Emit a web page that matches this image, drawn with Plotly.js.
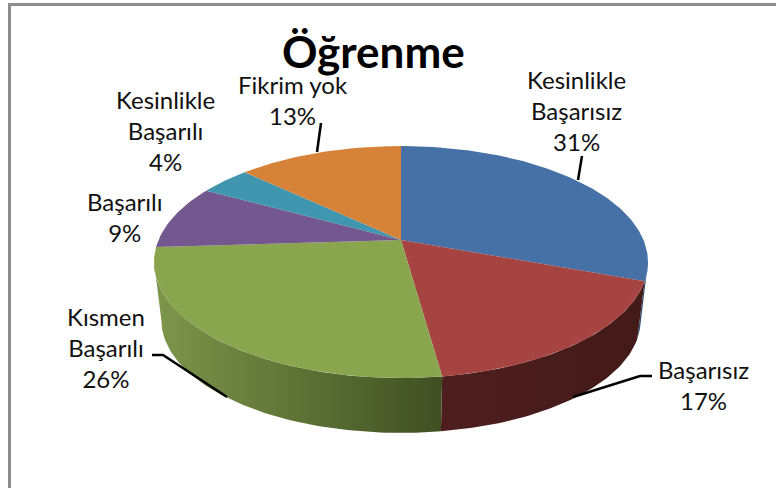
<!DOCTYPE html>
<html><head><meta charset="utf-8">
<script src="https://cdn.plot.ly/plotly-3.0.1.min.js"></script>
<style>html,body{margin:0;padding:0;background:#fff}</style></head>
<body><div id="chart" style="width:776px;height:488px"></div>
<script>
const categories = ["Kesinlikle Başarısız","Başarısız","Kısmen Başarılı","Başarılı","Kesinlikle Başarılı","Fikrim yok"];
const shares = [30.6,17.2,26.2,9,4,13];
const labelLines = ["Kesinlikle<br>Başarısız<br>31%","Başarısız<br>17%","Kısmen<br>Başarılı<br>26%","Başarılı<br>9%","Kesinlikle<br>Başarılı<br>4%","Fikrim yok<br>13%"];
const topColors = ["#4571a6","#a64442","#89a54e","#74578f","#3f96ae","#d68239"];
const wallColors = [["#2e4a70","#2e4a70"],["#4e1e1e","#421a18"],["#7e964b","#3f4f22"],null,null,null];
const labelX = [576,703,106,125,165,293];
const labelY = [110,385,347,217,130,100];

// perspective disc projection
const cx=401, cyTop=240, cyBottom=299, rimA=111.8, rimB=242.5, persp=0.19, bottomScale=0.97;
function rim(deg,isBottom){
  const t=deg*Math.PI/180,u=Math.sin(t),v=Math.cos(t),w=1+persp*v,s=isBottom?bottomScale:1;
  return [cx+s*rimB*u/w,(isBottom?cyBottom:cyTop)-s*rimA*v/w];
}
const arcPts=(a,b,isBottom)=>{const n=Math.max(2,Math.ceil(Math.abs(b-a)));const p=[];for(let i=0;i<=n;i++)p.push(rim(a+(b-a)*i/n,isBottom));return p;};

const traces=[];
const total=shares.reduce((a,b)=>a+b,0);
const edges=[0];shares.forEach(s=>edges.push(edges[edges.length-1]+s/total*360));
const tangentR=180-Math.acos(persp)*180/Math.PI, tangentL=180+Math.acos(persp)*180/Math.PI;

// side walls first
shares.forEach((s,i)=>{
  if(!wallColors[i])return;
  const a=Math.max(edges[i],tangentR),b=Math.min(edges[i+1],tangentL);
  if(a>=b)return;
  const top=arcPts(a,b,false),bot=arcPts(b,a,true),pts=top.concat(bot);pts.push(top[0]);
  traces.push({type:"scatter",mode:"lines",x:pts.map(p=>p[0]),y:pts.map(p=>p[1]),fill:"toself",line:{width:0},
    fillgradient:{type:"horizontal",colorscale:[[0,wallColors[i][0]],[1,wallColors[i][1]]]},hoverinfo:"skip",name:categories[i]+" side",showlegend:false});
});
// top faces
shares.forEach((s,i)=>{
  const pts=[[cx,cyTop]].concat(arcPts(edges[i],edges[i+1],false));pts.push([cx,cyTop]);
  traces.push({type:"scatter",mode:"lines",x:pts.map(p=>p[0]),y:pts.map(p=>p[1]),fill:"toself",fillcolor:topColors[i],
    line:{width:0},name:categories[i],text:s+"%",hoverinfo:"name+text",showlegend:false});
});

const font={family:"Lato, Carlito, sans-serif",size:24,color:"#111"};
const annotations=labelLines.map((t,i)=>({x:labelX[i],y:labelY[i],xref:"x",yref:"y",text:t,showarrow:false,font,align:"center",xanchor:"center",yanchor:"middle"}));
annotations.push({x:373,y:51,xref:"x",yref:"y",text:"<b>Öğrenme</b>",showarrow:false,font:{family:"Lato, Carlito, sans-serif",size:44,color:"#000"},xanchor:"center",yanchor:"middle"});

const lead=d=>({type:"path",xref:"x",yref:"y",path:d,line:{color:"#000",width:2.5}});
const shapes=[lead("M578,180L582,156"),lead("M317,152L321,123"),lead("M152,355L163,355L227,397"),lead("M573,397L640,376L652,376"),
  {type:"path",xref:"x",yref:"y",path:"M9.5,488L9.5,4.5L776,4.5",line:{color:"#8c8c8c",width:3}}];

Plotly.newPlot("chart",traces,{width:776,height:488,margin:{l:0,r:0,t:0,b:0},paper_bgcolor:"#fff",plot_bgcolor:"#fff",showlegend:false,
  xaxis:{range:[0,776],visible:false,fixedrange:true},yaxis:{range:[488,0],visible:false,fixedrange:true},annotations,shapes},{staticPlot:true});
</script></body></html>
